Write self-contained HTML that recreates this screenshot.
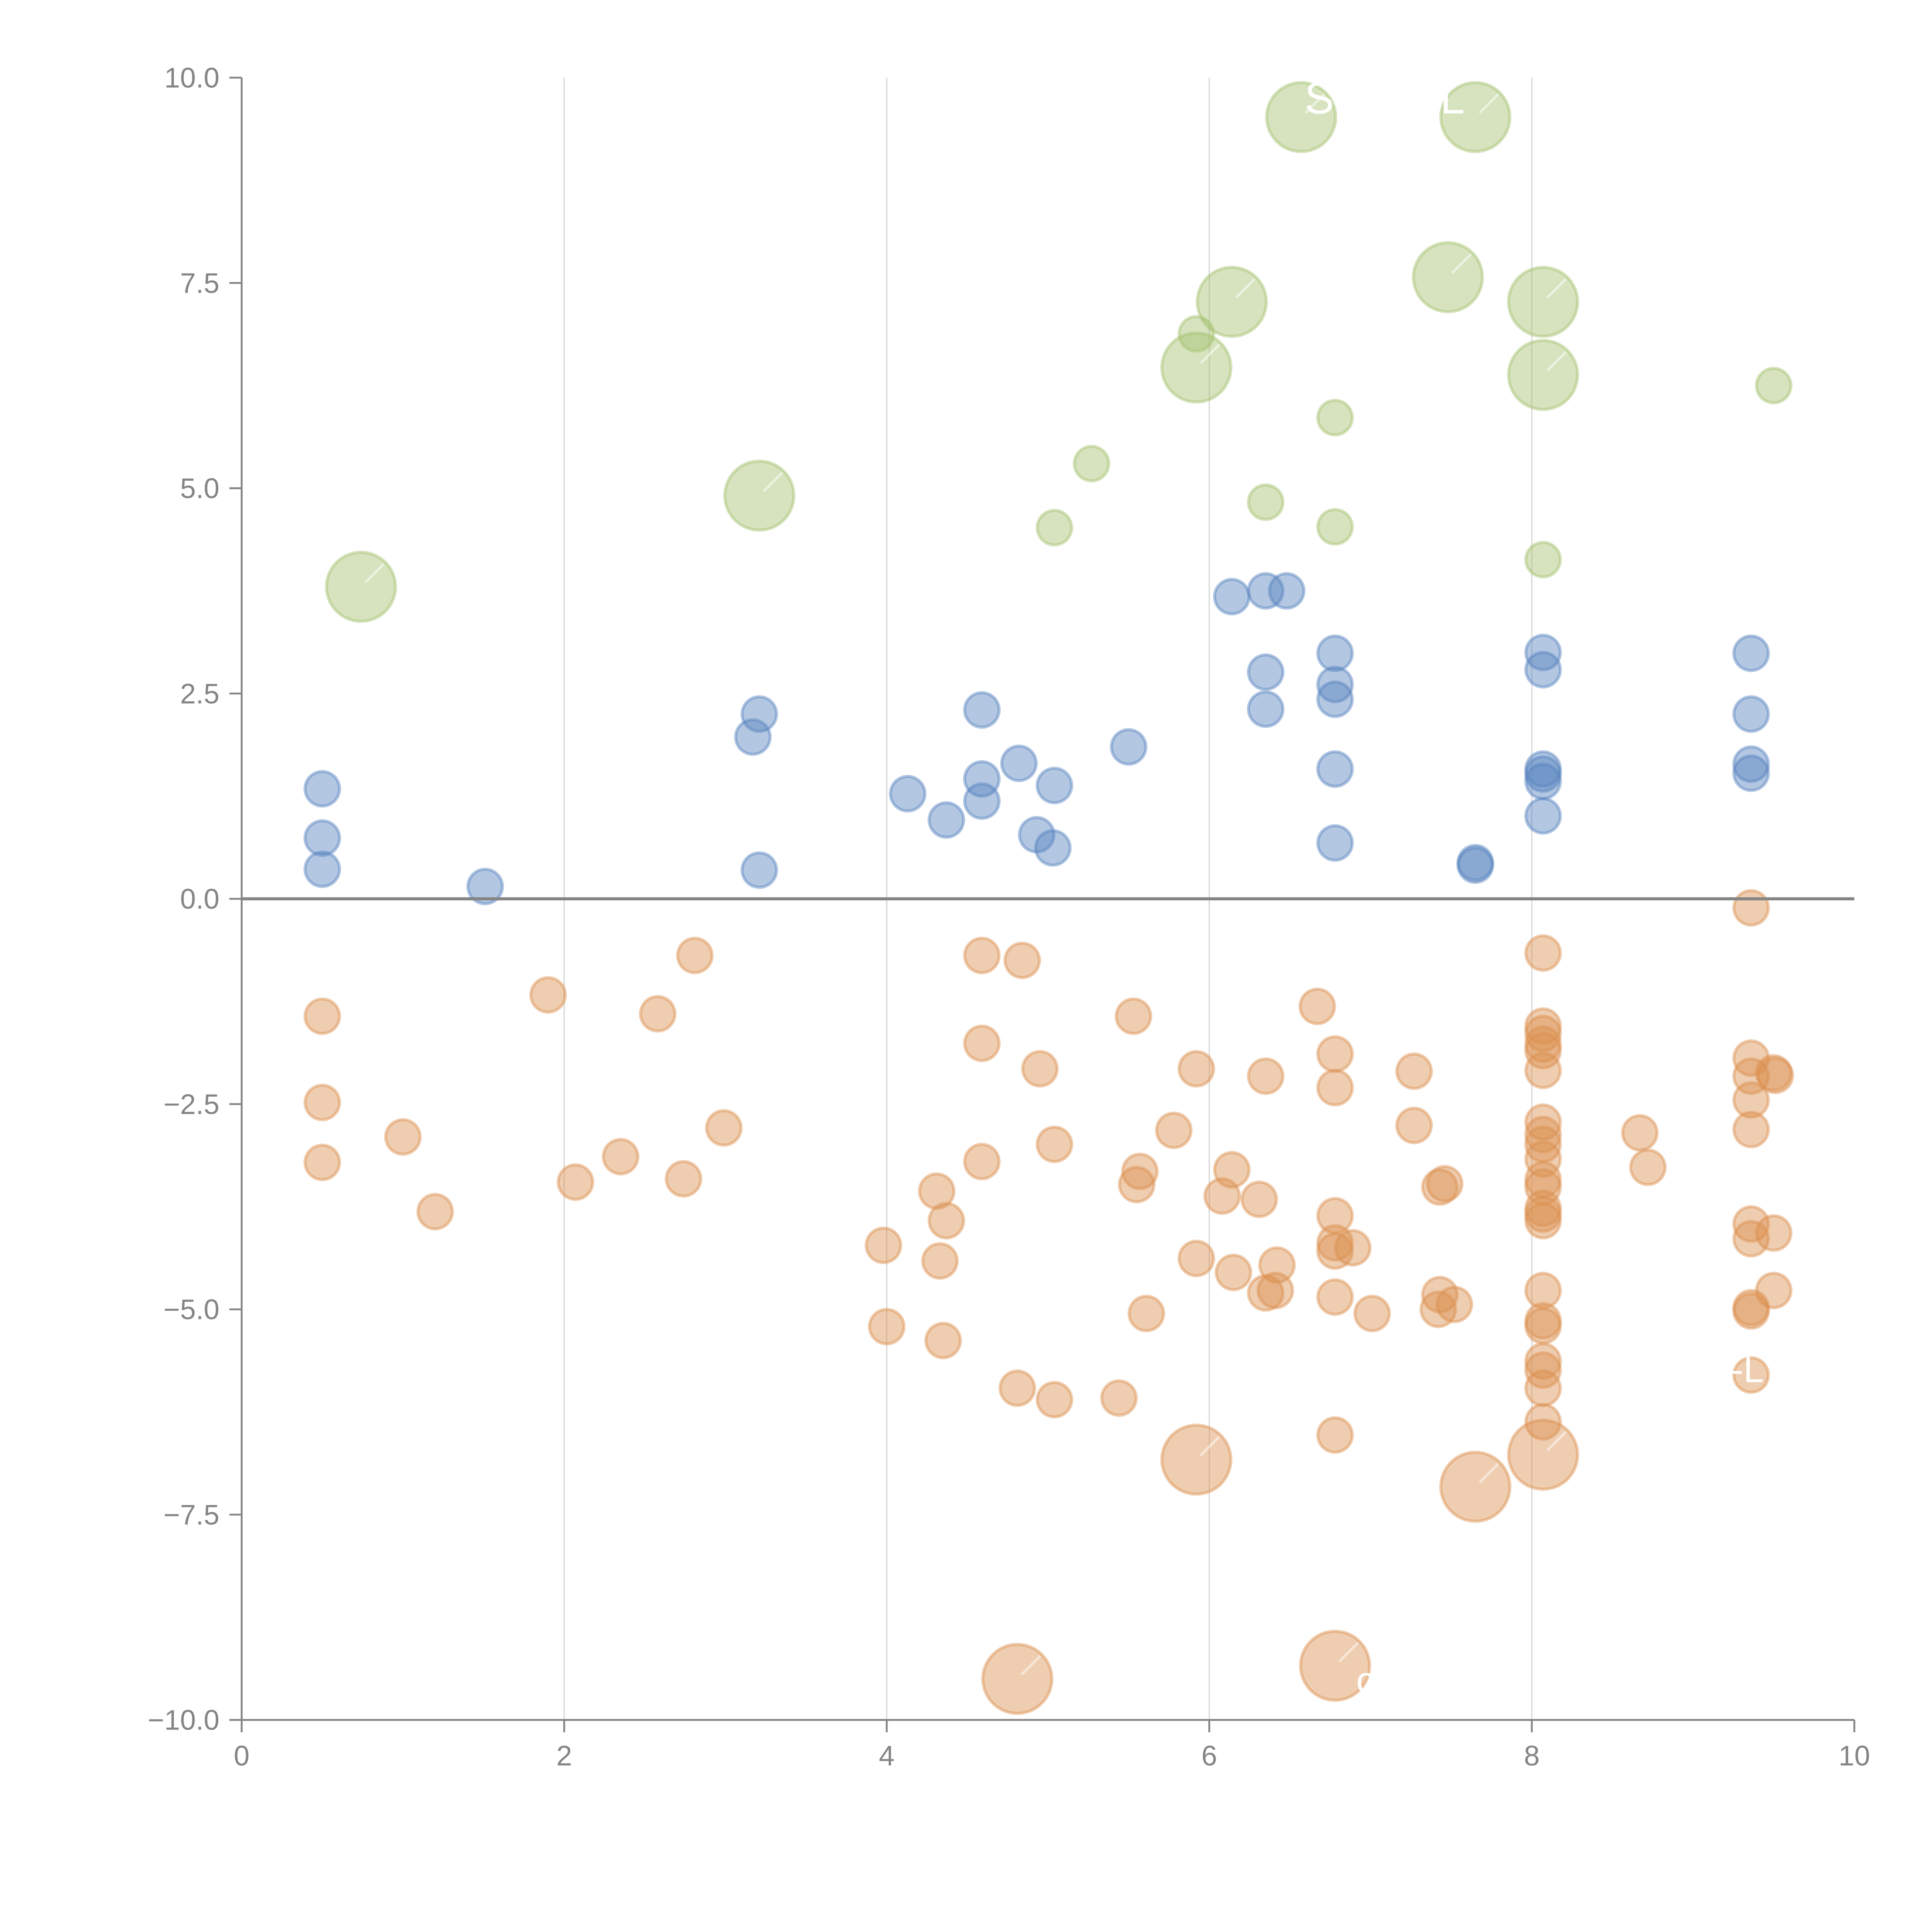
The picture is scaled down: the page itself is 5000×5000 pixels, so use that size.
<!DOCTYPE html>
<html><head><meta charset="utf-8"><style>
html,body{margin:0;padding:0;background:#fff;}
svg{display:block;font-family:"Liberation Sans",Arial,sans-serif;}
</style></head><body>
<svg id="chart" width="5000" height="5000" viewBox="0 0 1567 1567" xmlns="http://www.w3.org/2000/svg">
<g id="grid"></g>
<g id="marks"></g>
<g id="axes"></g>
<g id="labels">
<text x="1058" y="92" font-size="36" fill="#fff">S</text>
<text x="1168" y="92" font-size="36" fill="#fff">L</text>
<text x="1404" y="1121" font-size="30" fill="#fff">-L</text>
<text x="1100" y="1373" font-size="30" fill="#fff">c</text>
</g>
</svg>
<script>
const xTicks=[0,2,4,6,8,10];
const yTicks=[10,7.5,5,2.5,0,-2.5,-5,-7.5,-10];
const greenX=[0.74,3.21,5.04,5.27,5.92,5.92,6.14,6.35,6.57,6.78,6.78,7.48,7.65,8.07,8.07,8.07,9.50];
const greenY=[3.80,4.91,4.52,5.30,6.47,6.88,7.27,4.83,9.52,5.86,4.53,7.57,9.52,7.27,6.38,4.13,6.25];
const greenS=[4,4,1,1,4,1,4,1,4,1,1,4,4,4,4,1,1];
const blueX=[0.50,0.50,0.50,1.51,3.17,3.21,3.21,4.13,4.37,4.59,4.59,4.59,4.82,4.93,5.04,5.03,5.50,6.14,6.35,6.48,6.35,6.35,6.78,6.78,6.78,6.78,6.78,7.65,7.65,8.07,8.07,8.07,8.07,8.07,8.07,9.36,9.36,9.36,9.36];
const blueY=[1.34,0.74,0.36,0.15,1.97,2.25,0.35,1.28,0.96,2.30,1.46,1.19,1.65,0.78,1.38,0.62,1.85,3.68,3.75,3.75,2.76,2.31,2.99,2.61,2.43,1.58,0.68,0.44,0.41,3.00,2.79,1.58,1.52,1.43,1.01,2.99,2.25,1.64,1.53];
const orangeX=[0.50,0.50,0.50,1.00,1.20,1.90,2.07,2.35,2.58,2.74,2.81,2.99,3.98,4.00,4.31,4.33,4.37,4.35,4.59,4.84,4.59,4.59,4.95,5.04,4.81,5.04,4.81,5.53,5.57,5.55,5.61,5.44,5.78,5.92,5.92,5.92,6.08,6.14,6.15,6.31,6.35,6.35,6.42,6.41,6.67,6.78,6.78,6.78,6.78,6.78,6.89,6.78,6.78,6.78,7.01,7.27,7.27,7.43,7.46,7.43,7.42,7.52,7.65,8.07,8.07,8.07,8.07,8.07,8.07,8.07,8.07,8.07,8.07,8.07,8.07,8.07,8.07,8.07,8.07,8.07,8.07,8.07,8.07,8.07,8.07,8.07,8.67,8.72,9.36,9.36,9.36,9.36,9.36,9.36,9.36,9.36,9.36,9.36,9.50,9.51,9.50,9.50];
const orangeY=[-1.43,-2.48,-3.21,-2.90,-3.81,-1.17,-3.45,-3.14,-1.40,-3.41,-0.69,-2.79,-4.22,-5.21,-3.56,-4.41,-3.92,-5.38,-0.69,-0.75,-1.76,-3.20,-2.07,-2.99,-5.96,-6.10,-9.50,-1.43,-3.32,-3.48,-5.05,-6.08,-2.82,-2.07,-4.38,-6.83,-3.62,-3.30,-4.55,-3.66,-2.16,-4.80,-4.46,-4.77,-1.31,-1.89,-2.30,-3.86,-4.19,-4.29,-4.25,-4.85,-6.53,-9.34,-5.05,-2.10,-2.76,-3.51,-3.47,-4.82,-5.00,-4.94,-7.16,-0.66,-1.55,-1.64,-1.77,-1.85,-2.09,-2.72,-2.87,-2.99,-3.17,-3.42,-3.51,-3.77,-3.84,-3.92,-4.77,-5.14,-5.20,-5.63,-5.74,-5.96,-6.37,-6.77,-2.85,-3.27,-0.11,-1.94,-2.16,-2.45,-2.81,-3.96,-4.14,-4.98,-5.02,-5.80,-2.12,-2.15,-4.07,-4.77];
const orangeS=orangeX.map((v,i)=>[26,35,53,62,85].includes(i)?4:1);

const NS="http://www.w3.org/2000/svg";
const X0=196,X1=1504,Y0=1395,Y1=63;
function sx(v){return X0+(v-0)/(10-0)*(X1-X0);}
function sy(v){return Y0-(v+10)/20*(Y0-Y1);}
function rad(s){return 14*Math.sqrt(s);}
function mk(tag,attrs,parent){const e=document.createElementNS(NS,tag);for(const k in attrs)e.setAttribute(k,attrs[k]);parent.appendChild(e);return e;}
const grid=document.getElementById('grid'),marks=document.getElementById('marks'),axes=document.getElementById('axes');
xTicks.forEach(t=>{if(t>0&&t<10){const l=mk('line',{x1:sx(t),x2:sx(t),y1:Y1,y2:Y0,stroke:'#d8d8d8','stroke-width':1},grid);

}});
function series(xs,ys,ss,color,name){xs.forEach((x,i)=>{const s=ss?ss[i]:1;const c=mk('circle',{cx:sx(x),cy:sy(ys[i]),r:rad(s),fill:color,'fill-opacity':0.45,stroke:color,'stroke-opacity':0.45,'stroke-width':2.5},marks);


if(s>1){const l=mk('line',{x1:sx(x)+4,y1:sy(ys[i])-4,x2:sx(x)+18,y2:sy(ys[i])-18,stroke:'#fff','stroke-opacity':0.5,'stroke-width':2,'stroke-linecap':'round'},marks);

}});}
series(greenX,greenY,greenS,'#a4c16f','green');
series(blueX,blueY,null,'#5683bf','blue');
series(orangeX,orangeY,orangeS,'#dc9050','orange');
const ax=mk('line',{x1:X0,x2:X0,y1:Y1,y2:Y0,stroke:'#858585','stroke-width':1.5},axes);


const bx=mk('line',{x1:X0,x2:X1,y1:Y0,y2:Y0,stroke:'#858585','stroke-width':1.5},axes);


const z=mk('line',{x1:X0,x2:X1,y1:sy(0),y2:sy(0),stroke:'#858585','stroke-width':2.5},axes);


yTicks.forEach(t=>{const tk=mk('line',{x1:X0-10,x2:X0,y1:sy(t),y2:sy(t),stroke:'#858585','stroke-width':1.5},axes);


const tx=mk('text',{x:X0-18,y:sy(t)+8,'text-anchor':'end','font-size':23,fill:'#858585'},axes);
tx.textContent=(t<0?'\u2212':'')+Math.abs(t).toFixed(1);

});
xTicks.forEach(t=>{const tk=mk('line',{x1:sx(t),x2:sx(t),y1:Y0,y2:Y0+10,stroke:'#858585','stroke-width':1.5},axes);


const tx=mk('text',{x:sx(t),y:Y0+37,'text-anchor':'middle','font-size':23,fill:'#858585'},axes);
tx.textContent=String(t);

});
</script>
</body></html>
